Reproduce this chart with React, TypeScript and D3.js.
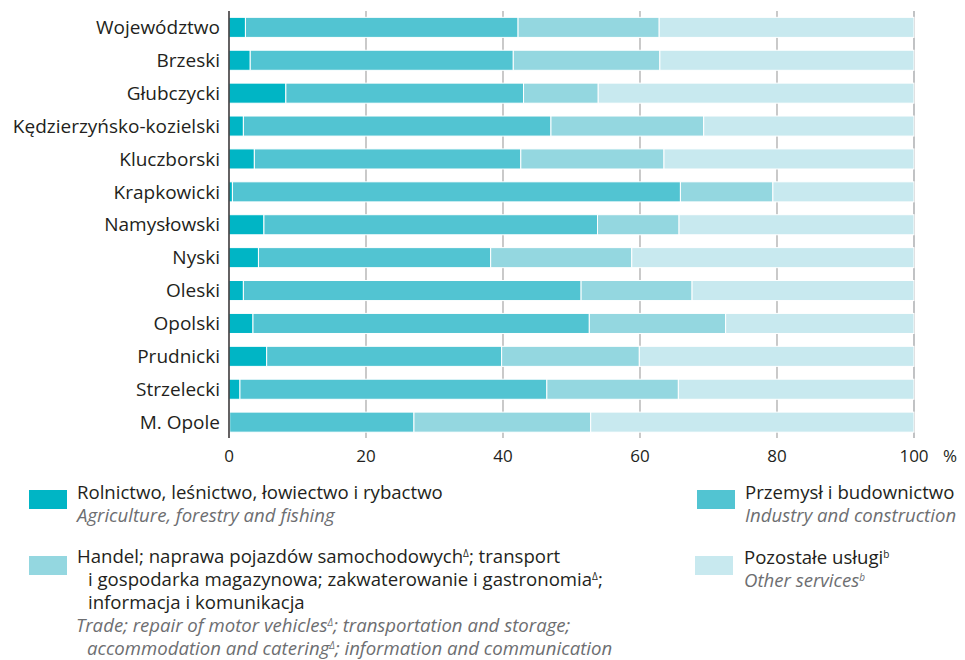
import React from "react";
import * as d3 from "d3";

const categories = [
  "Województwo",
  "Brzeski",
  "Głubczycki",
  "Kędzierzyńsko-kozielski",
  "Kluczborski",
  "Krapkowicki",
  "Namysłowski",
  "Nyski",
  "Oleski",
  "Opolski",
  "Prudnicki",
  "Strzelecki",
  "M. Opole",
];
const agriculture = [2.4, 3.1, 8.3, 2.1, 3.7, 0.5, 5.1, 4.3, 2.1, 3.5, 5.5, 1.6, 0.1];
const industry = [39.8, 38.4, 34.7, 44.9, 38.9, 65.4, 48.7, 33.9, 49.3, 49.1, 34.3, 44.8, 26.9];
const trade = [20.6, 21.4, 10.9, 22.3, 20.9, 13.5, 11.9, 20.6, 16.2, 19.9, 20.1, 19.2, 25.8];
const otherServices = [37.2, 37.1, 46.1, 30.7, 36.5, 20.6, 34.3, 41.2, 32.4, 27.5, 40.1, 34.4, 47.2];
const tickValues = [0, 20, 40, 60, 80, 100];

const seriesKeys = ["agriculture", "industry", "trade", "other"];
const colors = ["#00b5c5", "#52c4d2", "#94d7e0", "#c8e9ef"];

const FONT = "'Open Sans', sans-serif";
const TEXT = "#231f20";
const GREY = "#6d6e71";

export default function App() {
  const rows = categories.map((c, i) => ({
    category: c,
    agriculture: agriculture[i],
    industry: industry[i],
    trade: trade[i],
    other: otherServices[i],
  }));
  const stacked = d3.stack<any>().keys(seriesKeys)(rows);

  const x = d3.scaleLinear().domain([0, 100]).range([229, 914]);
  const y = d3
    .scaleBand<string>()
    .domain(categories)
    .range([4.5, 445])
    .paddingInner(0.39)
    .paddingOuter(0.39);

  const axisTop = 11;
  const axisBottom = 438;

  const sup = (t: string, italic = false, shift = 6) => (
    <tspan baselineShift={shift} fontSize={10} fontStyle={italic ? "italic" : "normal"}>
      {t}
    </tspan>
  );

  return (
    <svg width={965} height={660} style={{ position: "absolute", left: 0, top: 0 }}>
      {/* grid lines */}
      {tickValues.slice(1).map((t) => (
        <line
          key={t}
          x1={x(t)}
          x2={x(t)}
          y1={axisTop}
          y2={axisBottom}
          stroke={t === 100 ? "#a7a9ac" : "#b3b3b3"}
          strokeWidth={1.4}
        />
      ))}
      {/* bars */}
      {stacked.map((s, si) => (
        <g key={s.key} fill={colors[si]}>
          {s.map((d: any, i: number) => (
            <rect
              key={i}
              x={x(d[0])}
              y={y(categories[i])}
              width={Math.max(0, x(d[1]) - x(d[0]))}
              height={y.bandwidth()}
              stroke="#ffffff"
              strokeWidth={1}
            />
          ))}
        </g>
      ))}
      {/* zero axis */}
      <line x1={x(0)} x2={x(0)} y1={axisTop} y2={axisBottom} stroke="#231f20" strokeWidth={1.4} />
      {/* category labels */}
      {categories.map((c) => (
        <text
          key={c}
          x={220}
          y={(y(c) as number) + y.bandwidth() / 2}
          dy="0.35em"
          textAnchor="end"
          fontFamily={FONT}
          fontSize={19}
          fill={TEXT}
        >
          {c}
        </text>
      ))}
      {/* tick labels */}
      {tickValues.map((t) => (
        <text key={t} x={x(t)} y={462} textAnchor="middle" fontFamily={FONT} fontSize={17} fill={TEXT}>
          {t}
        </text>
      ))}
      <text x={950} y={462} textAnchor="middle" fontFamily={FONT} fontSize={17} fill={TEXT}>
        %
      </text>

      {/* legend */}
      <g fontFamily={FONT} fontSize={18.6}>
        <rect x={29} y={490} width={38} height={19} fill={colors[0]} />
        <text x={77} y={499} fill={TEXT}>Rolnictwo, leśnictwo, łowiectwo i rybactwo</text>
        <text x={77} y={522} fill={GREY} fontStyle="italic">Agriculture, forestry and fishing</text>

        <rect x={29} y={556} width={38} height={19} fill={colors[2]} />
        <text x={77} y={563} fill={TEXT}>
          Handel; naprawa pojazdów samochodowych{sup("Δ")}; transport
        </text>
        <text x={88} y={586} fill={TEXT}>
          i gospodarka magazynowa; zakwaterowanie i gastronomia{sup("Δ")};
        </text>
        <text x={88} y={609} fill={TEXT}>informacja i komunikacja</text>
        <text x={76} y={632} fill={GREY} fontStyle="italic">
          Trade; repair of motor vehicles{sup("Δ", true)}; transportation and storage;
        </text>
        <text x={87} y={655} fill={GREY} fontStyle="italic">
          accommodation and catering{sup("Δ", true)}; information and communication
        </text>

        <rect x={697} y={490} width={38} height={19} fill={colors[1]} />
        <text x={745} y={499} fill={TEXT}>Przemysł i budownictwo</text>
        <text x={745} y={522} fill={GREY} fontStyle="italic">Industry and construction</text>

        <rect x={695} y={556} width={38} height={19} fill={colors[3]} />
        <text x={744} y={564} fill={TEXT}>
          Pozostałe usługi{sup("b")}
        </text>
        <text x={744} y={587} fill={GREY} fontStyle="italic">
          Other services{sup("b", true)}
        </text>
      </g>
    </svg>
  );
}
